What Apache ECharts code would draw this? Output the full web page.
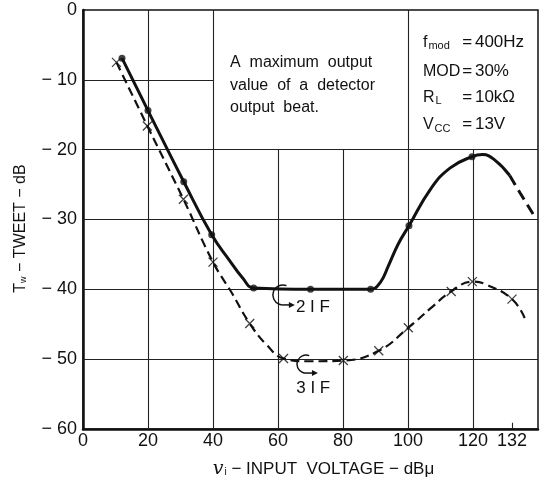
<html>
  <head>
    <meta charset="utf-8" />
    <title>TWEET</title>
    <script type="text/javascript" src="https://cdn.jsdelivr.net/npm/echarts@6/dist/echarts.min.js"></script>
    <style>body { margin: 0; background: #fff; }</style>
  </head>
  <body>
      <div id="main" style="width:540px;height:484px;"></div>
      <script type="text/javascript">
        // x tick labels (dBu) and y tick values (dB)
        var xTicks = [0, 20, 40, 60, 80, 100, 120, 132];
        var yTicks = [0, -10, -20, -30, -40, -50, -60];

        // 2IF (solid line, dots)
        var if2Dots = [[12, -6.9], [20, -14.4], [31, -24.6], [39.6, -32.2], [52.5, -39.8], [70, -40], [88.5, -40], [100.3, -30.9], [119.7, -21]];
        var if2Curve = [[12, -6.9], [20, -14.4], [31, -24.6], [39.6, -32.2], [45, -35.8], [49, -38.3], [52.5, -39.8], [70, -40], [88.5, -40], [91.5, -39], [94, -36.6], [97, -33.5], [100.3, -30.9], [107, -25.6], [113, -22.6], [119.7, -21], [123, -20.7], [127, -21.6], [131.3, -23.7]];
        var if2Tail = [[131.3, -23.7], [134.5, -26.2], [138.6, -29.3]];

        // 3IF (dashed line, crosses)
        var if3Marks = [[10.3, -7.5], [19.8, -16.6], [30.9, -27.1], [40, -36.1], [51.3, -44.9], [61.7, -49.9], [80.1, -50.2], [91, -48.8], [100.1, -45.5], [113.3, -40.3], [119.8, -38.9], [132, -41.4]];
        var if3Curve = [[10.3, -7.5], [19.8, -16.6], [30.9, -27.1], [40, -36.1], [45.9, -40.6], [51.3, -44.9], [56.6, -48], [61.7, -49.9], [70, -50.3], [80.1, -50.2], [91, -48.8], [100.1, -45.5], [107, -42.7], [113.3, -40.3], [119.8, -38.9], [124, -39.3], [132, -41.4], [135.9, -44.1]];

        // grid lines of the sheet: [x, yFrom, yTo] and [y, xFrom, xTo]
        var vLines = [[20, 0, -60], [40, 0, -60], [60, -20, -60], [80, -20, -60], [100, 0, -60], [120, -20, -60]];
        var hLines = [[-10, 0, 40], [-20, 0, 140], [-30, 0, 140], [-40, 0, 140], [-50, 0, 140]];
        var extraTick = [132];

        // note text lines: [dB, text]
        var noteLines = [[-7.55, 'A  maximum  output'], [-10.83, 'value  of  a  detector'], [-13.97, 'output  beat.']];

        var FONT = "'Liberation Sans', Arial, sans-serif";
        var ink = '#111';

        var myChart = echarts.init(document.getElementById('main'));

        var gridData = [];
        vLines.forEach(function (l) { gridData.push({ coords: [[l[0], l[1]], [l[0], l[2]]] }); });
        hLines.forEach(function (l) { gridData.push({ coords: [[l[1], l[0]], [l[2], l[0]]] }); });
        extraTick.forEach(function (x) { gridData.push({ coords: [[x, -60], [x, -59.1]] }); });

        var option = {
          backgroundColor: '#fff',
          animation: false,
          grid: {
              left: 83, right: 2, top: 10, bottom: 53,
              show: true, borderColor: ink, borderWidth: 1.5
          },
          xAxis: {
              type: 'value',
              min: 0, max: 140, interval: 20,
              splitLine: { show: false },
              axisLine: { onZero: false, lineStyle: { color: ink, width: 2.5 } },
              axisTick: { show: false },
              axisLabel: { customValues: xTicks, color: ink, fontFamily: FONT, fontSize: 18, margin: 3 },
              name: '{v|v}{sub|i}{t| − INPUT  VOLTAGE − dBμ}',
              nameLocation: 'middle',
              nameGap: 31,
              nameTextStyle: {
                  padding: [0, 0, 0, 26],
                  rich: {
                      v: { fontFamily: "'DejaVu Serif', serif", fontStyle: 'italic', fontSize: 19, color: ink },
                      sub: { fontFamily: FONT, fontSize: 10, color: ink, padding: [6, 0, 0, 1] },
                      t: { fontFamily: FONT, fontSize: 17, color: ink }
                  }
              }
          },
          yAxis: {
              type: 'value',
              min: -60, max: 0, interval: 10,
              splitLine: { show: false },
              axisLine: { onZero: false, lineStyle: { color: ink, width: 2.5 } },
              axisTick: { show: false },
              axisLabel: {
                  color: ink, fontFamily: FONT, fontSize: 18, margin: 6,
                  formatter: function (v) { return v === 0 ? '0' : '− ' + Math.abs(v); }
              },
              name: '{t|T}{sub|w}{t| − TWEET − dB}',
              nameLocation: 'middle',
              nameGap: 54,
              nameRotate: 90,
              nameTextStyle: {
                  padding: [0, 18, 0, 0],
                  rich: {
                      t: { fontFamily: FONT, fontSize: 16, color: ink },
                      sub: { fontFamily: FONT, fontSize: 9, color: ink, padding: [6, 0, 0, 0] }
                  }
              }
          },
          series: [
            {
              type: 'lines',
              coordinateSystem: 'cartesian2d',
              silent: true,
              z: 1,
              lineStyle: { color: '#222', width: 1.1, opacity: 1 },
              data: gridData
            },
            {
              name: '2IF',
              type: 'line',
              smooth: 0.45,
              showSymbol: false,
              z: 4,
              lineStyle: { color: ink, width: 3 },
              data: if2Curve
            },
            {
              name: '2IF tail',
              type: 'line',
              smooth: 0.4,
              showSymbol: false,
              z: 4,
              lineStyle: { color: ink, width: 3, type: [11, 6] },
              data: if2Tail
            },
            {
              name: '2IF dots',
              type: 'scatter',
              symbol: 'circle',
              symbolSize: 7,
              z: 5,
              itemStyle: { color: ink },
              data: if2Dots
            },
            {
              name: '3IF',
              type: 'line',
              smooth: 0.45,
              showSymbol: false,
              z: 3,
              lineStyle: { color: ink, width: 2.2, type: [9, 5] },
              data: if3Curve
            },
            {
              name: '3IF marks',
              type: 'scatter',
              symbol: 'path://M0,0L10,10M10,0L0,10',
              symbolSize: 9,
              z: 5,
              itemStyle: { color: 'rgba(0,0,0,0)', borderColor: ink, borderWidth: 1.3 },
              data: if3Marks
            }
          ]
        };
        myChart.setOption(option);

        // annotations placed from data anchors
        function px(p) { return myChart.convertToPixel({ gridIndex: 0 }, p); }

        function curlArrow(anchor, r) {
            var c = px(anchor);
            var y = c[1] + r;
            return [
              { type: 'arc', silent: true, z: 10,
                shape: { cx: c[0], cy: c[1], r: r, startAngle: -1.2, endAngle: Math.PI / 2, clockwise: false },
                style: { stroke: ink, fill: null, lineWidth: 1.5 } },
              { type: 'line', silent: true, z: 10,
                shape: { x1: c[0], y1: y, x2: c[0] + 7, y2: y },
                style: { stroke: ink, lineWidth: 1.5 } },
              { type: 'polygon', silent: true, z: 10,
                shape: { points: [[c[0] + 6, y - 3], [c[0] + 12, y], [c[0] + 6, y + 3]] },
                style: { fill: ink } }
            ];
        }

        function label(anchor, text, size, extra) {
            var p = px(anchor);
            var st = { text: text, fill: ink, font: size + 'px ' + FONT, verticalAlign: 'middle' };
            if (extra) { for (var k in extra) st[k] = extra[k]; }
            return { type: 'text', silent: true, z: 10, x: p[0], y: p[1], style: st };
        }

        var subRich = {
            s: { fontSize: 11, fontFamily: FONT, fill: ink, padding: [8, 0, 0, 1] }
        };

        var graphics = []
            .concat(curlArrow([61.5, -40.8], 10))
            .concat(curlArrow([68.6, -50.7], 9))
            .concat([
              label([65.5, -42.6], '2 I F', 17),
              label([65.6, -54.2], '3 I F', 17)
            ]);

        noteLines.forEach(function (l) {
            graphics.push(label([45.23, l[0]], l[1], 16));
        });

        // condition box: left part, "=" and value on fixed columns
        var condRows = [[-4.6, 'f{s|mod}', '=', '400Hz'], [-8.8, 'MOD', '=', '30%'], [-12.5, 'R{s|L}', '=', '10kΩ'], [-16.4, 'V{s|CC}', '=', '13V']];
        condRows.forEach(function (r) {
            graphics.push(label([104.6, r[0]], r[1], 16, { rich: subRich }));
            graphics.push(label([116.7, r[0]], r[2], 17));
            graphics.push(label([120.6, r[0]], r[3], 17));
        });

        myChart.setOption({ graphic: graphics });
      </script>
  </body>
</html>
